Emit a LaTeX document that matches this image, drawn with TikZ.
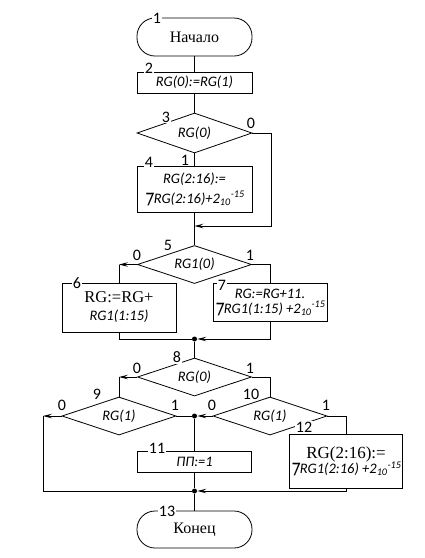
\documentclass[tikz,border=0pt]{standalone}
\usepackage{fontspec}
\setmainfont{Liberation Serif}
\newfontfamily\calfont{Carlito}
\IfFontExistsTF{DejaVu Sans ExtraLight}
  {\newfontfamily\djvfont{DejaVu Sans ExtraLight}}
  {\newfontfamily\djvfont{DejaVu Sans}}
\usetikzlibrary{shapes.geometric,arrows.meta}
\newcommand{\negsym}{{\djvfont\fontsize{19}{14}\selectfont ⁊}}
\newcommand{\pwr}{2\textsubscript{10}\textsuperscript{-15}}
\tikzset{
  cal/.style={font=\calfont\itshape\fontsize{14.5}{17}\selectfont},
  proc/.style={draw, rectangle, inner sep=0pt, align=center, cal},
  term/.style={draw, rectangle, rounded corners=18pt, inner sep=0pt, align=center,
    font=\fontsize{16}{18}\selectfont},
  dec/.style={draw, diamond, aspect=3, inner sep=0pt, cal},
  lbl/.style={fill=white, inner sep=1pt, font=\calfont\fontsize{16}{16}\selectfont},
  dot/.style={circle, fill=black, inner sep=0pt, minimum size=5pt},
  arr/.style={-{Stealth[length=9pt,width=4.5pt,inset=3.5pt]}},
  every path/.style={line width=0.8pt}
}
\begin{document}
\begin{tikzpicture}[x=1pt,y=-1pt]
\useasboundingbox (0,0) rectangle (425,558);
% shapes
\node[term, minimum width=115pt, minimum height=38pt] (t1) at (194.5,37) {Начало};
\node[proc, minimum width=115pt, minimum height=21pt] (b2) at (194.5,82.5) {RG(0):=RG(1)};
\node[dec, minimum width=115pt, minimum height=40pt] (d3) at (194.5,133) {RG(0)};
\node[proc, minimum width=115pt, minimum height=46pt] (b4) at (194.5,189)
  {RG(2:16):=\\[3pt]\negsym RG(2:16)+\pwr};
\node[dec, minimum width=114pt, minimum height=38pt] (d5) at (194.5,264.5) {RG1(0)};
\node[proc, minimum width=114pt, minimum height=49pt] (b6) at (119,307.5)
  {{\rmfamily\upshape\fontsize{16.5}{18}\selectfont RG:=RG+}\\[1pt]RG1(1:15)};
\node[proc, minimum width=114pt, minimum height=38pt] (b7) at (270,302)
  {RG:=RG+11.\\[-2pt]\negsym RG1(1:15) +\pwr};
\node[dot] (j1) at (194.5,339) {};
\node[dec, minimum width=114pt, minimum height=38pt] (d8) at (194.5,377) {RG(0)};
\node[dec, minimum width=114pt, minimum height=38pt] (d9) at (119,416) {RG(1)};
\node[dec, minimum width=114pt, minimum height=38pt] (d10) at (270,416) {RG(1)};
\node[dot] (j2) at (194.5,416) {};
\node[proc, minimum width=114pt, minimum height=21pt] (b11) at (194.5,461.5) {ПП:=1};
\node[proc, minimum width=113pt, minimum height=54pt] (b12) at (346,461)
  {{\rmfamily\upshape\fontsize{17}{19}\selectfont RG(2:16):=}\\[-2pt]\negsym RG1(2:16) +\pwr};
\node[dot] (j3) at (194.5,491) {};
\node[term, minimum width=115pt, minimum height=37pt] (t13) at (194.5,529.5) {Конец};
% coordinates
\coordinate (c3r) at (271,133);
\coordinate (c3b) at (271,226);
\coordinate (m1) at (194.5,226);
\coordinate (c5l) at (119,264.5);
\coordinate (c5r) at (270,264.5);
\coordinate (c6b) at (119,339);
\coordinate (c7b) at (270,339);
\coordinate (c8l) at (119,377);
\coordinate (c8r) at (270,377);
\coordinate (c9l) at (43,416);
\coordinate (c9b) at (43,491);
\coordinate (c10r) at (346,416);
\coordinate (c12b) at (346,491);
% connectors
\draw (t1.south) -- (b2.north);
\draw (b2.south) -- (d3.north);
\draw (d3.south) -- (b4.north);
\draw[arr] (d3.east) -- (c3r) -- (c3b) -- (m1);
\draw (b4.south) -- (d5.north);
\draw[arr] (d5.west) -- (c5l);
\draw (c5l) -- (b6.north);
\draw (d5.east) -- (c5r) -- (b7.north);
\draw (b6.south) -- (c6b) -- (j1);
\draw[arr] (b7.south) -- (c7b) -- (j1);
\draw (j1) -- (d8.north);
\draw[arr] (d8.west) -- (c8l);
\draw (c8l) -- (d9.north);
\draw (d8.east) -- (c8r) -- (d10.north);
\draw (d9.east) -- (j2);
\draw[arr] (d10.west) -- (j2);
\draw[arr] (d9.west) -- (c9l);
\draw (c9l) -- (c9b) -- (j3);
\draw (d10.east) -- (c10r) -- (b12.north);
\draw[arr] (b12.south) -- (c12b) -- (j3);
\draw (j2) -- (b11.north);
\draw (b11.south) -- (j3);
\draw (j3) -- (t13.north);
% labels
\node[lbl] (n1) at (157,18.5) {1};
\node[lbl] (n2) at (149,68) {2};
\node[lbl] (n3) at (166,117) {3};
\node[lbl] (o3) at (251,123) {0};
\node[lbl] (i3) at (185,160) {1};
\node[lbl] (n4) at (149,162) {4};
\node[lbl] (n5) at (168,245) {5};
\node[lbl] (o5) at (137,255) {0};
\node[lbl] (i5) at (250,255) {1};
\node[lbl] (n6) at (77,283) {6};
\node[lbl] (n7) at (222,285) {7};
\node[lbl] (n8) at (177,357) {8};
\node[lbl] (o8) at (137,368) {0};
\node[lbl] (i8) at (250,368) {1};
\node[lbl] (n9) at (97,394) {9};
\node[lbl] (o9) at (62,405) {0};
\node[lbl] (i9) at (175,405) {1};
\node[lbl] (n10) at (251,394) {10};
\node[lbl] (o10) at (212,405) {0};
\node[lbl] (i10) at (326,405) {1};
\node[lbl] (n12) at (304,427) {12};
\node[lbl] (n11) at (157,448) {11};
\node[lbl] (n13) at (167,511) {13};
\end{tikzpicture}
\end{document}
